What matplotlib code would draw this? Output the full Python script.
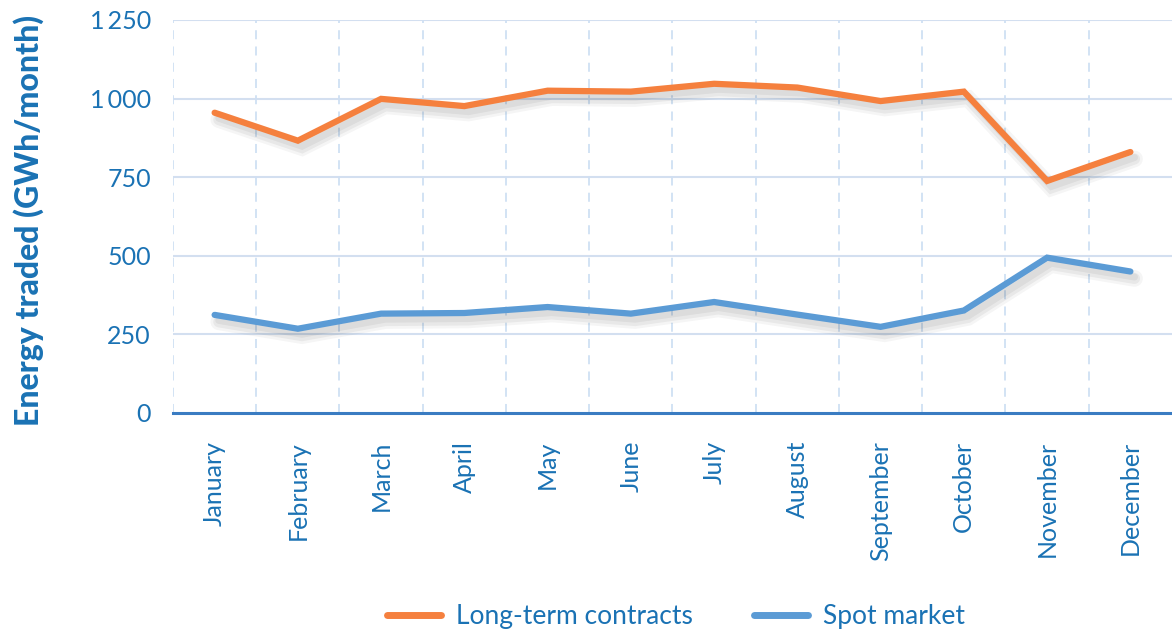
import matplotlib
matplotlib.use("Agg")
import matplotlib.pyplot as plt
import matplotlib.patheffects as pe

plt.rcParams['font.family'] = ['Lato', 'DejaVu Sans']

# Datos
meses = ['January', 'February', 'March', 'April', 'May', 'June', 'July',
         'August', 'September', 'October', 'November', 'December']
largo_plazo = [955, 866, 999, 976, 1025, 1022, 1047, 1035, 992, 1022, 738, 830]
spot = [312, 268, 316, 318, 337, 316, 353, 313, 274, 326, 494, 450]
y_ticks = [0, 250, 500, 750, 1000, 1250]
y_labels = ['0', '250', '500', '750', '1\u2009000', '1\u2009250']

azul_texto = '#1a72b4'
naranja = '#f5803e'
azul = '#5b9bd5'

fig = plt.figure(figsize=(11.72, 6.43), dpi=100)
ax = fig.add_axes([0.1476, 0.3577, 0.8524, 0.6113])

x = list(range(len(meses)))
# sombra difusa: varias capas suaves
sombra = [pe.SimpleLineShadow(offset=(3, -5), shadow_color='black', alpha=0.04, linewidth=12),
          pe.SimpleLineShadow(offset=(3, -5), shadow_color='black', alpha=0.05, linewidth=8),
          pe.SimpleLineShadow(offset=(3, -4), shadow_color='black', alpha=0.05, linewidth=5),
          pe.Normal()]
ax.plot(x, largo_plazo, color=naranja, lw=4.5, solid_capstyle='round',
        solid_joinstyle='miter', label='Long-term contracts', path_effects=sombra, zorder=3)
ax.plot(x, spot, color=azul, lw=4.5, solid_capstyle='round',
        solid_joinstyle='miter', label='Spot market', path_effects=sombra, zorder=3)

ax.set_xlim(-0.5, 11.5)
ax.set_ylim(0, 1250)

# rejilla
for t in y_ticks[1:]:
    ax.axhline(t, color='#d3dff0', lw=1.5, zorder=1)
for i in range(len(meses)):
    ax.axvline(i - 0.5, color='#cfe0f3', lw=1.3, ls=(0, (5, 4)), zorder=1)

for s in ['top', 'right', 'left']:
    ax.spines[s].set_visible(False)
ax.spines['bottom'].set_color('#3a7cc2')
ax.spines['bottom'].set_linewidth(2.2)

ax.set_xticks(x)
ax.set_xticklabels(meses, rotation=90, fontsize=18, color=azul_texto)
ax.set_yticks(y_ticks)
ax.set_yticklabels(y_labels, fontsize=18, color=azul_texto)
ax.tick_params(axis='both', length=0)
ax.tick_params(axis='x', pad=20)
ax.tick_params(axis='y', pad=16)

ax.set_ylabel('Energy traded (GWh/month)', fontsize=23, fontweight='black',
              color=azul_texto, labelpad=0)
ax.yaxis.set_label_coords(-0.129, 0.49)

leg = fig.legend(loc='lower center', bbox_to_anchor=(0.577, -0.015), ncol=2,
                 frameon=False, fontsize=19, handlelength=2.05, columnspacing=2.3,
                 handletextpad=0.57)
for t in leg.get_texts():
    t.set_color(azul_texto)
for l in leg.get_lines():
    l.set_linewidth(5)
    l.set_path_effects([])

fig.savefig('out.png', dpi=100)
